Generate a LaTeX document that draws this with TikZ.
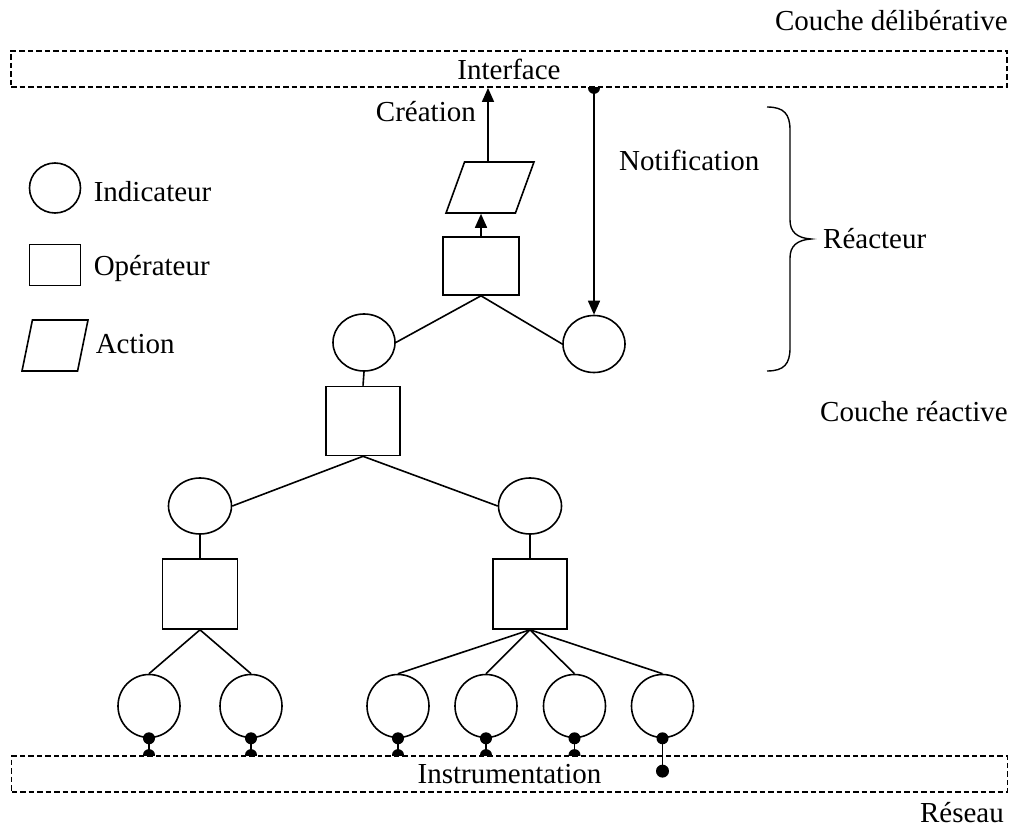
\documentclass[tikz,border=0pt]{standalone}
\usepackage{fontspec}
\setmainfont{Liberation Serif}
\usetikzlibrary{shapes.geometric,arrows.meta}
\pgfdeclarelayer{under}
\pgfsetlayers{under,main}
\begin{document}
\begin{tikzpicture}[x=1pt,y=-1pt,line width=1.6pt,
  every node/.style={font=\fontsize{29}{34}\selectfont,inner sep=0pt},
  ind/.style={ellipse,draw,minimum width=62pt,minimum height=57pt},
  opr/.style={rectangle,draw},
  actn/.style={trapezium,draw,inner sep=2pt,trapezium left angle=70,trapezium right angle=110,
    trapezium stretches=true,minimum width=88pt,minimum height=51pt},
  layer/.style={draw,fill=white,line width=1.8pt,dash pattern=on 5.5pt off 3pt,
    minimum width=996pt,minimum height=36pt},
  arr/.style={-{Triangle[width=12pt,length=14pt]}},
  lbl/.style={anchor=base west},
  rlbl/.style={anchor=base east}]
\useasboundingbox (0,0) rectangle (1017,832);

% layer boxes
\node[layer] (iface) at (509,69) {Interface};
\node[layer] (instr) at (509.5,774) {Instrumentation};

% legend
\node[ind,minimum width=51pt,minimum height=50pt] (lgind) at (55,188) {};
\node[lbl] (lgindt) at (93,201) {Indicateur};
\node[opr,minimum width=51pt,minimum height=41pt] (lgopr) at (55,265) {};
\node[lbl] (lgoprt) at (93,275) {Opérateur};
\node[actn,trapezium left angle=77,trapezium right angle=103,minimum width=66pt] (lgact) at (55,345.5) {};
\node[lbl] (lgactt) at (95,353) {Action};

% reactor
\node[opr,minimum width=76pt,minimum height=58pt] (sq0) at (481,266) {};
\node[actn] (act) at (490,187.5) {};
\node[ind] (c0L) at (364,342.5) {};
\node[ind] (c0R) at (594,344) {};

% reactive tree
\node[opr,minimum width=74pt,minimum height=69pt] (sq1) at (363,421) {};
\node[ind,minimum width=63pt,minimum height=56pt] (c1L) at (200,506) {};
\node[ind,minimum width=63pt,minimum height=56pt] (c1R) at (530,506) {};
\node[opr,minimum width=75pt,minimum height=70pt] (sq2L) at (200,594) {};
\node[opr,minimum width=74pt,minimum height=70pt] (sq2R) at (530,594) {};
\foreach \i/\x in {1/149,2/251,3/398,4/486,5/574.5,6/662.5}
  \node[ind,minimum width=62pt,minimum height=63pt] (c2\i) at (\x,706) {};

% connectors
\draw[arr] (sq0.north) -- (sq0.north |- act.south);
\draw[arr] ([xshift=-2pt]act.north) -- ([xshift=-2pt]act.north |- iface.south);
\draw[arr] (c0R.north |- iface.south) -- (c0R.north);
\draw (sq0.south) -- (c0L.east);
\draw (sq0.south) -- (c0R.west);
\draw (c0L.south) -- (sq1.north);
\draw (sq1.south) -- (c1L.east);
\draw (sq1.south) -- (c1R.west);
\draw (c1L.south) -- (sq2L.north);
\draw (c1R.south) -- (sq2R.north);
\foreach \i in {1,2} \draw (sq2L.south) -- (c2\i.north);
\foreach \i in {3,4,5,6} \draw (sq2R.south) -- (c2\i.north);

% sensor links to the instrumentation layer
\foreach \i in {1,2,3,4,5} {
  \draw (c2\i.south) -- (c2\i.south |- instr.north);
  \fill (c2\i.south) circle (6pt);
}
\coordinate (pin6) at ([yshift=-16pt]c26.south |- instr.north);
\draw (c26.south) -- (pin6);
\fill (c26.south) circle (6pt);
\fill (pin6) circle (6.5pt);

\begin{pgfonlayer}{under}
  \foreach \i in {1,2,3,4,5}
    \fill (c2\i.south |- instr.north) circle (6pt);
  \fill (c0R.north |- iface.south) circle (6pt);
\end{pgfonlayer}

% brace around the reactor
\coordinate (btip) at (811,239);
\draw[line width=1.4pt] (767,107) .. controls (784,107) and (790,114) .. (790,130)
  -- (790,220) .. controls (790,232) and (797,238) .. (btip)
  .. controls (797,240) and (790,246) .. (790,258)
  -- (790,348) .. controls (790,364) and (784,371) .. (767,371);

% labels
\node[rlbl] (lcreat) at (476,122) {Création};
\node[lbl] (lnotif) at (619,170) {Notification};
\node[lbl] (lreact) at (823,248) {Réacteur};
\node[rlbl] (ldelib) at (1008,31) {Couche délibérative};
\node[rlbl] (lreac) at (1008,421) {Couche réactive};
\node[rlbl] (lres) at (1004,822) {Réseau};
\end{tikzpicture}
\end{document}
